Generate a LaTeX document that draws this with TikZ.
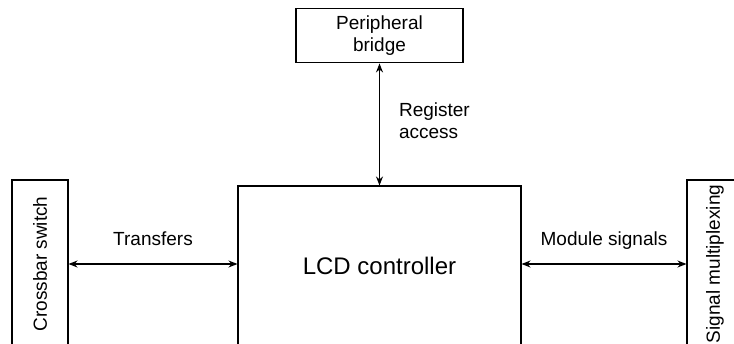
\documentclass[tikz,border=0pt]{standalone}
\usepackage{fontspec}
\setmainfont{Liberation Sans}
\usetikzlibrary{arrows.meta,positioning}

\begin{document}
\begin{tikzpicture}[x=1pt,y=1pt,font=\fontsize{19}{22}\selectfont,
        b/.style={draw,line width=1.1pt,align=center,inner sep=0pt},
        a/.style={{Stealth[length=9pt,width=7pt]}-{Stealth[length=9pt,width=7pt]},line width=1.1pt},
        l/.style={inner sep=0pt,text height=13pt,text depth=4pt}]
        \useasboundingbox (0,0) rectangle (734,343);
        \node[b,minimum width=283pt,minimum height=159pt,font=\fontsize{24}{28}\selectfont] (lcd) at (379.5,77.5) {LCD controller};
        \node[b,minimum width=167pt,minimum height=54pt,above=122pt of lcd] (br) {Peripheral\\bridge};
        \node[b,minimum width=56pt,minimum height=168pt] (cb) at (40,79) {\rotatebox{90}{Crossbar switch}};
        \node[b,minimum width=56pt,minimum height=168pt] (sm) at (715,79) {\rotatebox{90}{Signal multiplexing}};
        \draw[a] (br) -- node[midway,right=19pt,inner sep=0pt,align=left,yshift=4pt]{Register\\access} (lcd);
        \draw[a] (cb.east) -- node[l,above=14pt]{Transfers} (cb.east -| lcd.west);
        \draw[a] (sm.west -| lcd.east) -- node[l,above=14pt]{Module signals} (sm.west);
      \end{tikzpicture}
\end{document}
